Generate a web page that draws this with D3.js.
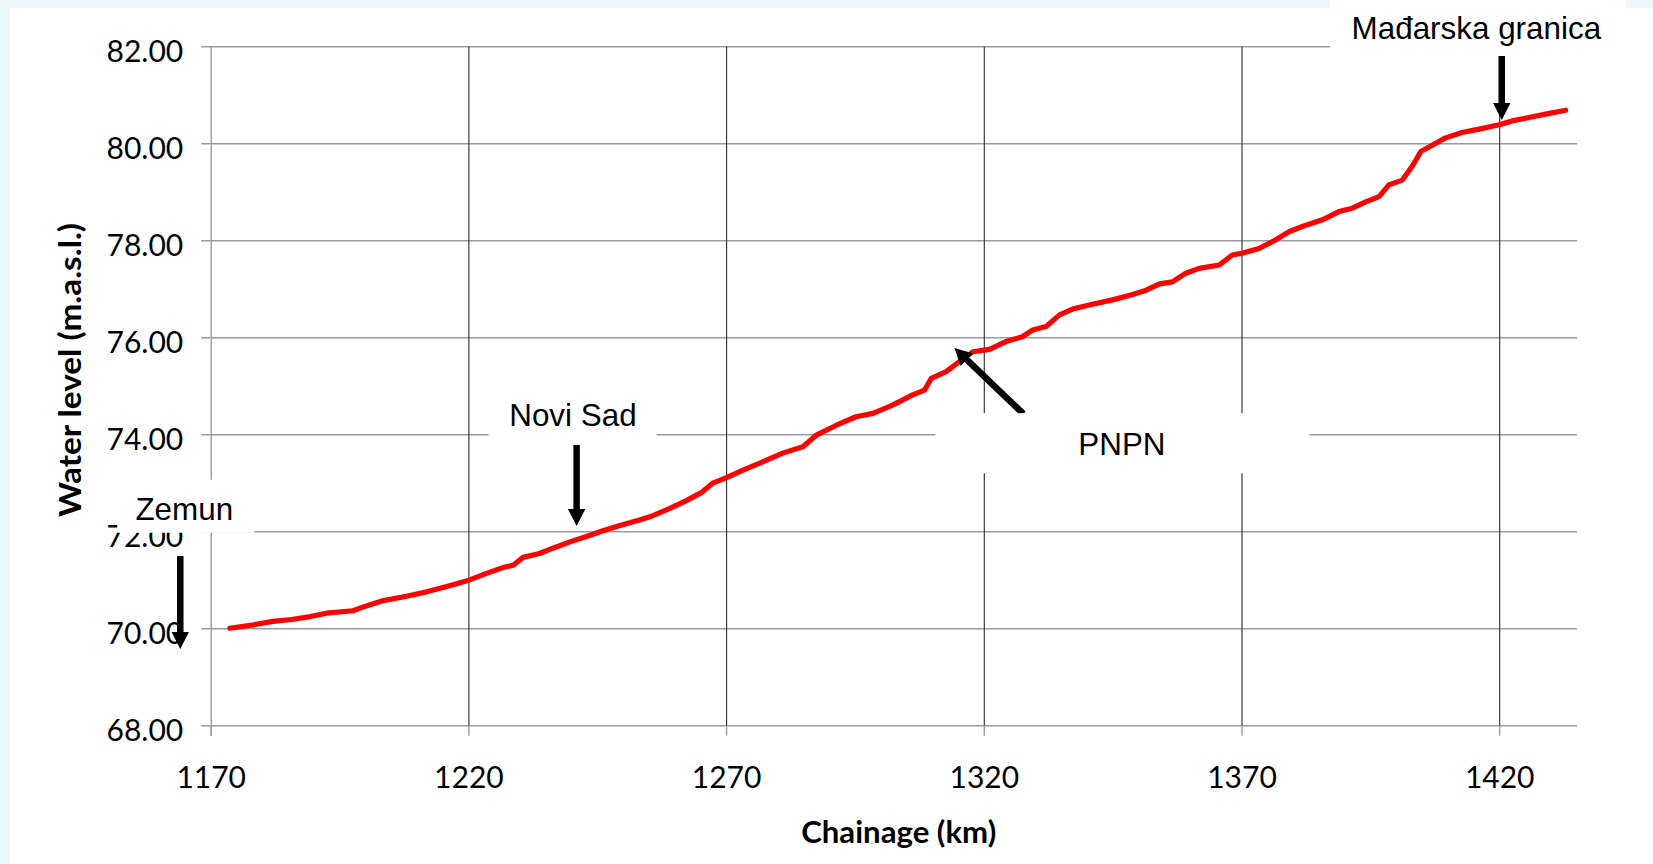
<!DOCTYPE html>
<html><head><meta charset="utf-8">
<script src="https://cdn.jsdelivr.net/npm/d3@7"></script>
<style>
html,body{margin:0;padding:0;background:#fff;overflow:hidden;}
svg{display:block;}
</style></head><body>
<svg id="chart" width="1653" height="864"></svg>
<script>
// ---- data ----
const chainage = [1173.6,1178.2,1182.0,1185.6,1189.2,1192.4,1197.5,1200.1,1203.4,1207.9,1211.8,1215.7,1220.0,1223.4,1226.6,1228.6,1230.5,1233.7,1236.3,1239.6,1242.8,1246.0,1249.3,1253.1,1255.7,1259.0,1262.2,1265.0,1267.3,1270.1,1273.2,1277.0,1280.9,1284.8,1287.4,1291.2,1295.1,1298.4,1302.2,1306.1,1308.4,1309.7,1312.6,1315.2,1317.8,1321.0,1324.2,1327.4,1329.4,1332.0,1334.6,1337.1,1341.0,1344.9,1348.8,1351.4,1354.0,1356.5,1359.1,1361.7,1365.6,1368.2,1370.0,1373.3,1375.9,1379.2,1382.4,1385.6,1388.8,1391.4,1394.0,1396.6,1398.5,1401.1,1403.0,1404.7,1406.9,1409.5,1412.7,1416.0,1419.9,1422.4,1425.7,1428.9,1432.8];
const waterLevel = [70.01,70.08,70.15,70.19,70.25,70.32,70.37,70.47,70.58,70.67,70.76,70.87,71.00,71.14,71.26,71.31,71.47,71.55,71.66,71.79,71.90,72.02,72.13,72.24,72.33,72.48,72.64,72.80,73.00,73.12,73.27,73.44,73.62,73.75,73.99,74.19,74.37,74.44,74.61,74.82,74.92,75.16,75.30,75.51,75.71,75.76,75.92,76.02,76.16,76.23,76.47,76.59,76.69,76.78,76.89,76.98,77.11,77.15,77.33,77.43,77.50,77.71,77.74,77.84,77.98,78.19,78.32,78.43,78.60,78.67,78.80,78.91,79.15,79.25,79.53,79.84,79.97,80.12,80.23,80.30,80.39,80.47,80.54,80.61,80.69];
const xTicks = [1170,1220,1270,1320,1370,1420];
const yTicks = [68,70,72,74,76,78,80,82];
const xDomain = [1170,1435];
const yDomain = [68,82];
const xTitle = "Chainage (km)";
const yTitle = "Water level (m.a.s.l.)";
const annotLabels = ["Zemun","Novi Sad","PNPN","Mađarska granica"];
const annotChainage = [1164.0,1240.9,1314.2,1420.4];
const annotLevel = [69.58,72.12,75.79,80.49];

// ---- layout ----
const W = 1653, H = 864;
const M = {left:211.2, right:W-1577, top:46.7, bottom:H-725.7};
const iw = W - M.left - M.right, ih = H - M.top - M.bottom;
const TICK = 10;
// annotation layout: tail offset, box (dx,dy,w,h), text (dx,dy) relative to arrow tip
const annotLayout = [
  {tail:[0,-93],  box:[-63,-169.3,137,53],  text:[4,-128.6]},
  {tail:[0,-82],  box:[-88,-141,168,60],    text:[-3.7,-100]},
  {tail:[69,66],  box:[-19,65.3,374,60],    text:[167.5,107.3]},
  {tail:[0,-64],  box:[-171.7,-125,296,61], text:[-25.4,-80.7]}
];

const svg = d3.select("#chart");
svg.append("rect").attr("width",W).attr("height",H).attr("fill","#fff");
svg.append("rect").attr("x",0).attr("y",0).attr("width",W).attr("height",8).attr("fill","#EAF8FD");
svg.append("rect").attr("x",0).attr("y",0).attr("width",10).attr("height",H).attr("fill","#EAF8FD");

const x = d3.scaleLinear().domain(xDomain).range([M.left, M.left+iw]);
const y = d3.scaleLinear().domain(yDomain).range([M.top+ih, M.top]);

const g = svg.append("g");
// horizontal gridlines (with outward tick)
g.selectAll("line.hg").data(yTicks).join("line")
  .attr("x1", M.left-TICK).attr("x2", M.left+iw)
  .attr("y1", d=>y(d)).attr("y2", d=>y(d))
  .attr("stroke","#9c9c9c").attr("stroke-width",1.4);
// vertical gridlines
g.selectAll("line.vg").data(xTicks.filter(d=>d!==xDomain[0])).join("line")
  .attr("x1", d=>x(d)).attr("x2", d=>x(d))
  .attr("y1", M.top).attr("y2", M.top+ih)
  .attr("stroke","#2a2a2a").attr("stroke-width",1.1);
// x tick marks
g.selectAll("line.xt").data(xTicks).join("line")
  .attr("x1", d=>x(d)).attr("x2", d=>x(d))
  .attr("y1", M.top+ih).attr("y2", M.top+ih+TICK)
  .attr("stroke","#9c9c9c").attr("stroke-width",1.4);
// y axis line
g.append("line").attr("x1",x(xDomain[0])).attr("x2",x(xDomain[0]))
  .attr("y1",M.top).attr("y2",M.top+ih+TICK)
  .attr("stroke","#9c9c9c").attr("stroke-width",1.4);

const tickFont = "Lato, 'Open Sans', sans-serif";
g.selectAll("text.yl").data(yTicks).join("text")
  .attr("x", M.left-28).attr("y", d=>y(d)+15)
  .attr("text-anchor","end").attr("font-family",tickFont).attr("font-size",30)
  .attr("fill","#000").text(d=>d3.format(".2f")(d));
g.selectAll("text.xl").data(xTicks).join("text")
  .attr("x", d=>x(d)).attr("y", 788.3)
  .attr("text-anchor","middle").attr("font-family",tickFont).attr("font-size",30)
  .attr("fill","#000").text(d=>d);

// axis titles
svg.append("text").attr("x",898.7).attr("y",843)
  .attr("text-anchor","middle").attr("font-family",tickFont).attr("font-weight","bold")
  .attr("font-size",31).attr("textLength",195).attr("lengthAdjust","spacingAndGlyphs")
  .attr("fill","#000").text(xTitle);
svg.append("text").attr("transform","translate(81,370) rotate(-90)")
  .attr("text-anchor","middle").attr("font-family",tickFont).attr("font-weight","bold")
  .attr("font-size",31).attr("textLength",294).attr("lengthAdjust","spacingAndGlyphs")
  .attr("fill","#000").text(yTitle);

// data line
const pts = chainage.map((c,i)=>[c, waterLevel[i]]);
svg.append("path").datum(pts)
  .attr("d", d3.line().x(d=>x(d[0])).y(d=>y(d[1])))
  .attr("fill","none").attr("stroke","#FF0000").attr("stroke-width",5.2)
  .attr("stroke-linejoin","round").attr("stroke-linecap","round");

// annotations
const ag = svg.append("g");
annotLabels.forEach((lab,i)=>{
  const tx = x(annotChainage[i]), ty = y(annotLevel[i]);
  const L = annotLayout[i];
  const sx = tx+L.tail[0], sy = ty+L.tail[1];
  const dx = tx-sx, dy = ty-sy, len = Math.hypot(dx,dy);
  const ux = dx/len, uy = dy/len, px = -uy, py = ux;
  const hl = 17, hw = 8.7;
  const bx = tx-ux*hl, by = ty-uy*hl;
  ag.append("line").attr("x1",sx).attr("y1",sy).attr("x2",bx+ux*1).attr("y2",by+uy*1)
    .attr("stroke","#000").attr("stroke-width",6.5);
  ag.append("path").attr("d",`M${tx},${ty}L${bx+px*hw},${by+py*hw}L${bx-px*hw},${by-py*hw}Z`)
    .attr("fill","#000");
});
annotLabels.forEach((lab,i)=>{
  const tx = x(annotChainage[i]), ty = y(annotLevel[i]);
  const L = annotLayout[i];
  ag.append("rect").attr("x",tx+L.box[0]).attr("y",ty+L.box[1])
    .attr("width",L.box[2]).attr("height",L.box[3]).attr("fill","#fff");
  ag.append("text").attr("x",tx+L.text[0]).attr("y",ty+L.text[1])
    .attr("text-anchor","middle").attr("font-family","'Liberation Sans', Arial, sans-serif")
    .attr("font-size",31.4).attr("fill","#000").text(lab);
});
</script>
</body></html>
